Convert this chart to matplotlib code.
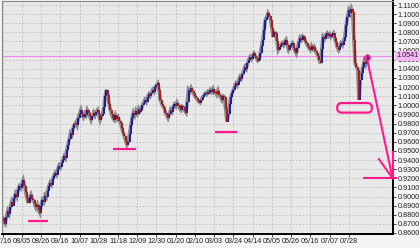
import numpy as np
import matplotlib.pyplot as plt
from matplotlib.patches import FancyBboxPatch, Ellipse

plt.rcParams['font.family'] = ['Liberation Sans', 'DejaVu Sans']

# daily closes
closes = [
    0.876, 0.872, 0.870, 0.878, 0.884, 0.881, 0.889, 0.894, 0.890, 0.898,
    0.903, 0.900, 0.907, 0.911, 0.909, 0.914, 0.918, 0.912, 0.905, 0.898,
    0.893, 0.899, 0.902, 0.897, 0.896, 0.892, 0.888, 0.891, 0.885, 0.882,
    0.890, 0.896, 0.894, 0.901, 0.899, 0.906, 0.911, 0.915, 0.913, 0.919,
    0.923, 0.926, 0.924, 0.930, 0.934, 0.932, 0.937, 0.940, 0.944, 0.942,
    0.951, 0.957, 0.963, 0.970, 0.968, 0.975, 0.979, 0.981, 0.978, 0.986,
    0.991, 0.995, 0.990, 0.987, 0.991, 0.989, 0.995, 0.992, 0.988, 0.984,
    0.988, 0.992, 0.989, 0.993, 0.995, 0.990, 0.984, 0.988, 0.991, 0.998,
    1.010, 1.017, 1.011, 1.002, 0.995, 0.990, 0.986, 0.984, 0.989, 0.985,
    0.987, 0.983, 0.981, 0.975, 0.970, 0.966, 0.961, 0.957, 0.960, 0.969,
    0.978, 0.986, 0.992, 0.989, 0.994, 0.991, 0.996, 0.993, 0.995, 1.000,
    1.003, 1.006, 1.004, 1.009, 1.012, 1.010, 1.014, 1.017, 1.015, 1.020,
    1.022, 1.024, 1.017, 1.006, 1.002, 0.999, 0.997, 0.992, 0.989, 0.986,
    0.990, 0.995, 0.993, 0.998, 1.001, 0.999, 1.003, 1.000, 0.997, 0.995,
    0.999, 0.998, 0.994, 0.992, 1.004, 1.017, 1.015, 1.019, 1.016, 1.013,
    1.010, 1.008, 1.006, 1.004, 1.003, 1.006, 1.009, 1.011, 1.013, 1.012,
    1.015, 1.014, 1.017, 1.015, 1.018, 1.014, 1.015, 1.012, 1.016, 1.011,
    1.009, 1.006, 1.010, 1.009, 0.996, 0.982, 0.990, 1.001, 1.009, 1.013,
    1.017, 1.021, 1.024, 1.022, 1.027, 1.031, 1.029, 1.034, 1.038, 1.042,
    1.040, 1.046, 1.050, 1.053, 1.051, 1.055, 1.057, 1.054, 1.052, 1.049,
    1.050, 1.057, 1.065, 1.072, 1.083, 1.094, 1.097, 1.101, 1.098, 1.094,
    1.085, 1.075, 1.080, 1.079, 1.070, 1.061, 1.064, 1.066, 1.068, 1.066,
    1.070, 1.072, 1.066, 1.061, 1.064, 1.066, 1.068, 1.063, 1.060, 1.057,
    1.063, 1.069, 1.074, 1.072, 1.076, 1.075, 1.071, 1.068, 1.065, 1.063,
    1.061, 1.065, 1.062, 1.064, 1.060, 1.057, 1.054, 1.050, 1.046, 1.062,
    1.075, 1.073, 1.077, 1.079, 1.076, 1.078, 1.075, 1.077, 1.079, 1.074,
    1.069, 1.064, 1.061, 1.065, 1.068, 1.066, 1.071, 1.075, 1.088, 1.097,
    1.104, 1.101, 1.106, 1.102, 1.072, 1.046, 1.042, 1.039, 1.006, 1.028,
    1.035, 1.042, 1.048, 1.045, 1.051, 1.0541,
]
date_labels = ['07/16', '08/05', '08/26', '09/16', '10/07', '10/28', '11/18',
               '12/09', '12/30', '01/20', '02/10', '03/03', '03/24', '04/14',
               '05/05', '05/26', '06/16', '07/07', '07/28']
last_price = 1.0541

# support marks drawn on the chart (start day, end day, price)
supports = [(19.5, 35, 0.8735), (86, 104, 0.952), (166, 183, 0.9707)]

closes = np.array(closes)
days = np.arange(len(closes))
opens = np.r_[closes[0], closes[:-1]]
up = closes >= opens

fig = plt.figure(figsize=(4.2, 2.48), dpi=100, facecolor='#f4f4f4')
ax = fig.add_axes([2/420, 14/248, 391/420, 233/248], facecolor='#e9e9e9')

ax.plot(days, closes, color='#8a8a8a', lw=2.6, solid_joinstyle='miter', zorder=2)
ax.vlines(days[up], opens[up], closes[up], color='#14149a', lw=1.3, zorder=3)
ax.vlines(days[~up], opens[~up], closes[~up], color='#a81414', lw=1.3, zorder=3)

ax.axhline(last_price, color='#ee88ee', lw=0.8, zorder=1)

pink = '#ff1a8c'
for d0, d1, p in supports:
    ax.plot([d0, d1], [p, p], color=pink, lw=1.6, solid_capstyle='butt', zorder=4)

ax.add_patch(FancyBboxPatch((261, 0.9920), 27, 0.0105,
                            boxstyle='round,pad=0,rounding_size=3.5',
                            mutation_aspect=0.00142, fill=False,
                            ec=pink, lw=1.6, zorder=4))
ax.add_patch(Ellipse((284.5, 1.0520), 4.2, 0.0048, fill=False, ec=pink,
                     lw=1.2, zorder=4))
tip = (304.2, 0.9200)
ax.plot([284.8, tip[0]], [1.0475, tip[1]], color=pink, lw=1.5, zorder=4, clip_on=False)
ax.plot([293.5, tip[0]], [0.9410, tip[1]], color=pink, lw=1.5, zorder=4, clip_on=False)
ax.plot([tip[0], tip[0]], [0.9490, tip[1]], color=pink, lw=1.5, zorder=4, clip_on=False)
ax.plot([281.5, 306.5], [tip[1], tip[1]], color=pink, lw=1.5, zorder=4, clip_on=False)

ax.set_xlim(-0.5, 304.5)
ax.set_ylim(0.8589, 1.1144)
ax.set_xticks(np.arange(len(date_labels)) * 15)
ax.set_xticklabels(date_labels)
yt = np.round(np.arange(0.86, 1.1101, 0.01), 2)
ax.set_yticks(yt)
ax.set_yticklabels(['%.4f' % v for v in yt])
ax.yaxis.tick_right()
ax.tick_params(axis='both', labelsize=5.2, length=2, width=0.6, pad=1.2, colors='#222222')
ax.grid(True, color='#bdbdbd', lw=0.6, ls=(0, (2, 2)))
ax.set_axisbelow(True)

for s in ['left', 'top']:
    ax.spines[s].set_color('#888888')
    ax.spines[s].set_linewidth(0.8)
for s in ['right', 'bottom']:
    ax.spines[s].set_color('black')
    ax.spines[s].set_linewidth(1.4)

ax.text(1.008, last_price, '%.4f' % last_price, transform=ax.get_yaxis_transform(),
        fontsize=5.2, va='center', ha='left', color='#222222', zorder=6,
        bbox=dict(boxstyle='square,pad=0.15', fc='#f7b6f7', ec='none'),
        clip_on=False)

fig.savefig('out.png', dpi=100, facecolor=fig.get_facecolor())
